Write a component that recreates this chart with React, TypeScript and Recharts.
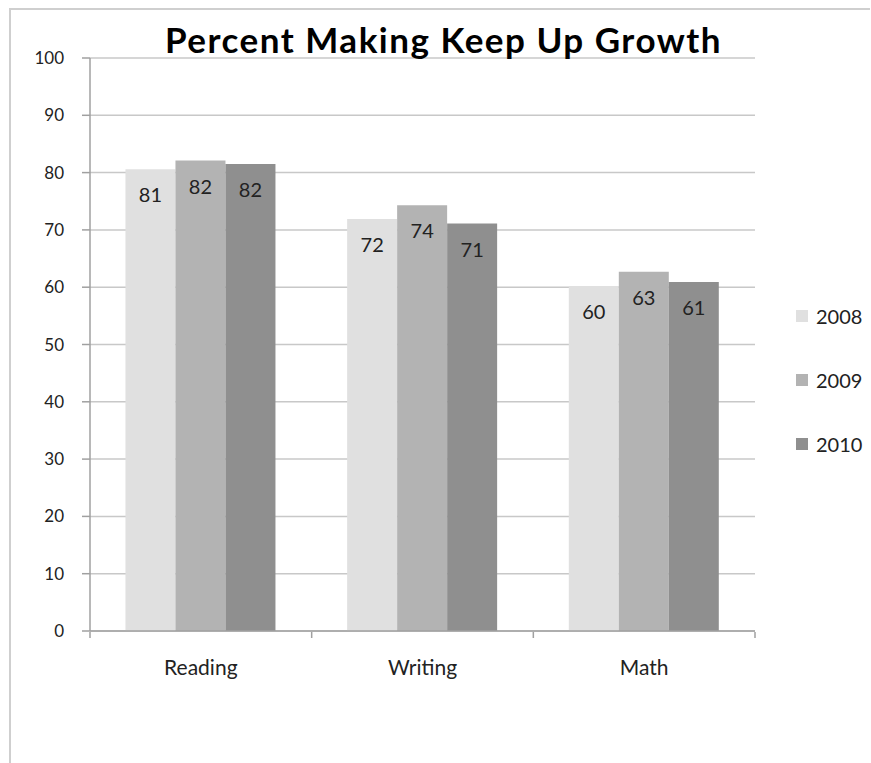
import { BarChart, Bar, XAxis, YAxis, CartesianGrid, Legend, LabelList } from 'recharts';

const categories = ['Reading', 'Writing', 'Math'];
const years = ['2008', '2009', '2010'];
const values2008 = [80.6, 71.9, 60.2];
const values2009 = [82.1, 74.3, 62.7];
const values2010 = [81.5, 71.1, 60.9];
const yTicks = [0, 10, 20, 30, 40, 50, 60, 70, 80, 90, 100];
const edgeTicks = [0, 1, 2, 3];

const barColors = ['#e0e0e0', '#b3b3b3', '#8f8f8f'];
const FONT = 'Lato, "Open Sans", sans-serif';

const data = categories.map((name, i) => ({
  name,
  [years[0]]: values2008[i],
  [years[1]]: values2009[i],
  [years[2]]: values2010[i],
}));

const LegendBox = ({ payload }: any) => (
  <div style={{ fontFamily: FONT }}>
    {(payload || []).map((p: any) => (
      <div key={p.value} style={{ height: 64, display: 'flex', alignItems: 'center' }}>
        <span style={{ width: 12, height: 12, background: p.color, marginRight: 8, display: 'inline-block' }} />
        <span style={{ fontSize: 20, color: '#222' }}>{p.value}</span>
      </div>
    ))}
  </div>
);

export default function App() {
  return (
    <div style={{ position: 'absolute', left: 0, top: 0, width: 871, height: 763, background: '#fff' }}>
      <div
        style={{
          position: 'absolute',
          left: 9,
          top: 8,
          right: 1,
          bottom: 0,
          borderTop: '2px solid #cfcfcf',
          borderLeft: '2px solid #cfcfcf',
        }}
      />
      <BarChart
        width={871}
        height={763}
        data={data}
        margin={{ top: 58, right: 116, left: 30, bottom: 92 }}
        barCategoryGap="16%"
        barGap={0}
      >
        <CartesianGrid xAxisId="cat" vertical={false} stroke="#c8c8c8" strokeWidth={1.5} />
        <XAxis
          xAxisId="cat"
          dataKey="name"
          height={1}
          axisLine={{ stroke: '#a0a0a0', strokeWidth: 1.5 }}
          tickLine={false}
          tickSize={0}
          tickMargin={29}
          tick={{ fontSize: 21, fill: '#222', fontFamily: FONT }}
        />
        {/* second axis only for the tick marks between the categories */}
        <XAxis
          xAxisId="edges"
          type="number"
          dataKey={() => 0}
          domain={[0, categories.length]}
          ticks={edgeTicks}
          allowDataOverflow
          height={39}
          axisLine={false}
          tickFormatter={() => ''}
          tickLine={{ stroke: '#a0a0a0', strokeWidth: 1.5 }}
          tickSize={6}
        />
        <YAxis
          width={60}
          domain={[0, 100]}
          ticks={yTicks}
          axisLine={{ stroke: '#a0a0a0', strokeWidth: 1.5 }}
          tickLine={{ stroke: '#a0a0a0', strokeWidth: 1.5 }}
          tickSize={8}
          tickMargin={18}
          tick={{ fontSize: 17, fill: '#222', fontFamily: FONT }}
        />
        <Legend
          layout="horizontal"
          verticalAlign="middle"
          align="center"
          content={<LegendBox />}
          wrapperStyle={{ left: 796, top: 284, width: 80 }}
        />
        {years.map((y, i) => (
          <Bar key={y} xAxisId="cat" dataKey={y} fill={barColors[i]} isAnimationActive={false}>
            <LabelList
              dataKey={y}
              position="insideTop"
              offset={19}
              formatter={(v: any) => Math.round(Number(v))}
              style={{ fontSize: 20, fill: '#222', fontFamily: FONT }}
            />
          </Bar>
        ))}
      </BarChart>
      <div
        style={{
          position: 'absolute',
          left: 0,
          top: 22,
          width: 887,
          textAlign: 'center',
          fontFamily: FONT,
          fontWeight: 'bold',
          fontSize: 35,
          letterSpacing: 1.5,
          lineHeight: '35px',
          color: '#000',
        }}
      >
        Percent Making Keep Up Growth
      </div>
    </div>
  );
}
